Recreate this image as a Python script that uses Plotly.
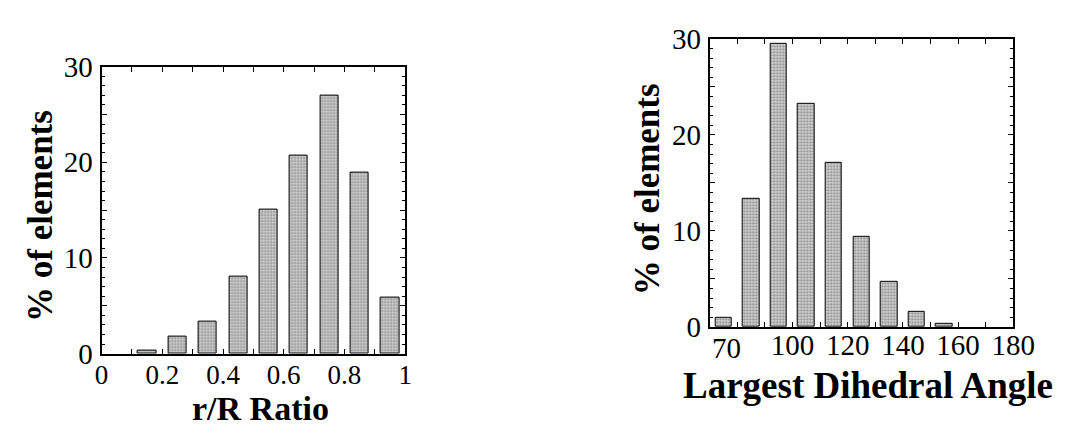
import plotly.graph_objects as go

# ---- data ----
ratio_centers = [0.15, 0.25, 0.35, 0.45, 0.55, 0.65, 0.75, 0.85, 0.95]
ratio_pct = [0.3, 1.8, 3.4, 8.1, 15.1, 20.7, 27.0, 18.9, 5.9]

angle_centers = [75, 85, 95, 105, 115, 125, 135, 145, 155]
angle_pct = [0.9, 13.3, 29.5, 23.2, 17.1, 9.4, 4.7, 1.6, 0.3]

ratio_ticks = [0, 0.1, 0.2, 0.3, 0.4, 0.5, 0.6, 0.7, 0.8, 0.9, 1.0]
ratio_ticktext = ["0", "", "0.2", "", "0.4", "", "0.6", "", "0.8", "", "1"]
angle_ticks = [70, 80, 90, 100, 110, 120, 130, 140, 150, 160, 170, 180]
angle_ticktext = ["", "", "", "100", "", "120", "", "140", "", "160", "", "180"]
pct_ticks = [0, 5, 10, 15, 20, 25, 30]
pct_ticktext = ["0", "", "10", "", "20", "", "30"]

W, H = 1073, 433
FONT = "Liberation Serif"

def px_x(p):
    return p / W

def px_y(p):
    return 1 - p / H

bar_style = dict(
    color="#d2d2d2",
    line=dict(color="black", width=1),
    pattern=dict(shape=".", fgcolor="#333333", size=3, solidity=0.4, fillmode="overlay"),
)

fig = go.Figure()
fig.add_trace(go.Bar(x=ratio_centers, y=ratio_pct, width=0.06, marker=bar_style,
                     xaxis="x", yaxis="y", showlegend=False))
fig.add_trace(go.Bar(x=angle_centers, y=angle_pct, width=6, marker=bar_style,
                     xaxis="x2", yaxis="y2", showlegend=False))

axis_common = dict(
    showline=True, linecolor="black", linewidth=2, mirror="ticks",
    ticks="inside", ticklen=5, tickwidth=1, tickcolor="black",
    showgrid=False, zeroline=False,
    fixedrange=True,
)
tick_font = dict(family=FONT, size=29, color="black")

fig.update_layout(
    width=W, height=H,
    margin=dict(l=0, r=0, t=0, b=0),
    paper_bgcolor="white", plot_bgcolor="white",
    bargap=0,
    xaxis=dict(domain=[px_x(89), px_x(401)], range=[0, 1], anchor="y",
               tickmode="array", tickvals=ratio_ticks, ticktext=ratio_ticktext,
               tickfont=dict(family=FONT, size=27, color="black"),
               ticklabelstandoff=-4, **axis_common),
    yaxis=dict(domain=[px_y(356), px_y(46)], range=[0, 30], anchor="x",
               tickmode="array", tickvals=pct_ticks, ticktext=pct_ticktext,
               tickfont=tick_font, ticklabelstandoff=1,
               minor=dict(dtick=1, tick0=0, ticks="inside", ticklen=3, tickcolor="black"),
               **axis_common),
    xaxis2=dict(domain=[px_x(714), px_x(1026)], range=[70, 180], anchor="y2",
                tickmode="array", tickvals=angle_ticks, ticktext=angle_ticktext,
                tickfont=tick_font, ticklabelstandoff=-9, **axis_common),
    yaxis2=dict(domain=[px_y(327), px_y(16)], range=[0, 30], anchor="x2",
                tickmode="array", tickvals=pct_ticks, ticktext=pct_ticktext,
                tickfont=tick_font, ticklabelstandoff=1,
                minor=dict(dtick=1, tick0=0, ticks="inside", ticklen=3, tickcolor="black"),
                **axis_common),
)

title_font = dict(family=FONT, size=37, color="black")
annotations = [
    dict(text="<b>r/R Ratio</b>", x=px_x(252), y=px_y(436), xref="paper", yref="paper",
         showarrow=False, font=dict(family=FONT, size=34, color="black"), borderpad=0,
         xanchor="center", yanchor="bottom"),
    dict(text="<b>% of elements</b>", x=px_x(26), y=px_y(207), xref="paper", yref="paper",
         showarrow=False, font=dict(family=FONT, size=35, color="black"), textangle=-90,
         xanchor="center", yanchor="middle"),
    dict(text="<b>Largest Dihedral Angle</b>", x=px_x(877), y=px_y(390), xref="paper", yref="paper",
         showarrow=False, font=title_font, xanchor="center", yanchor="middle"),
    dict(text="<b>% of elements</b>", x=px_x(650), y=px_y(178), xref="paper", yref="paper",
         showarrow=False, font=dict(family=FONT, size=35, color="black"), textangle=-90,
         xanchor="center", yanchor="middle"),
    dict(text="70", x=px_x(731), y=px_y(350), xref="paper", yref="paper",
         showarrow=False, font=tick_font,
         xanchor="center", yanchor="middle"),
]
fig.update_layout(annotations=annotations)

fig.write_html("out.html")
